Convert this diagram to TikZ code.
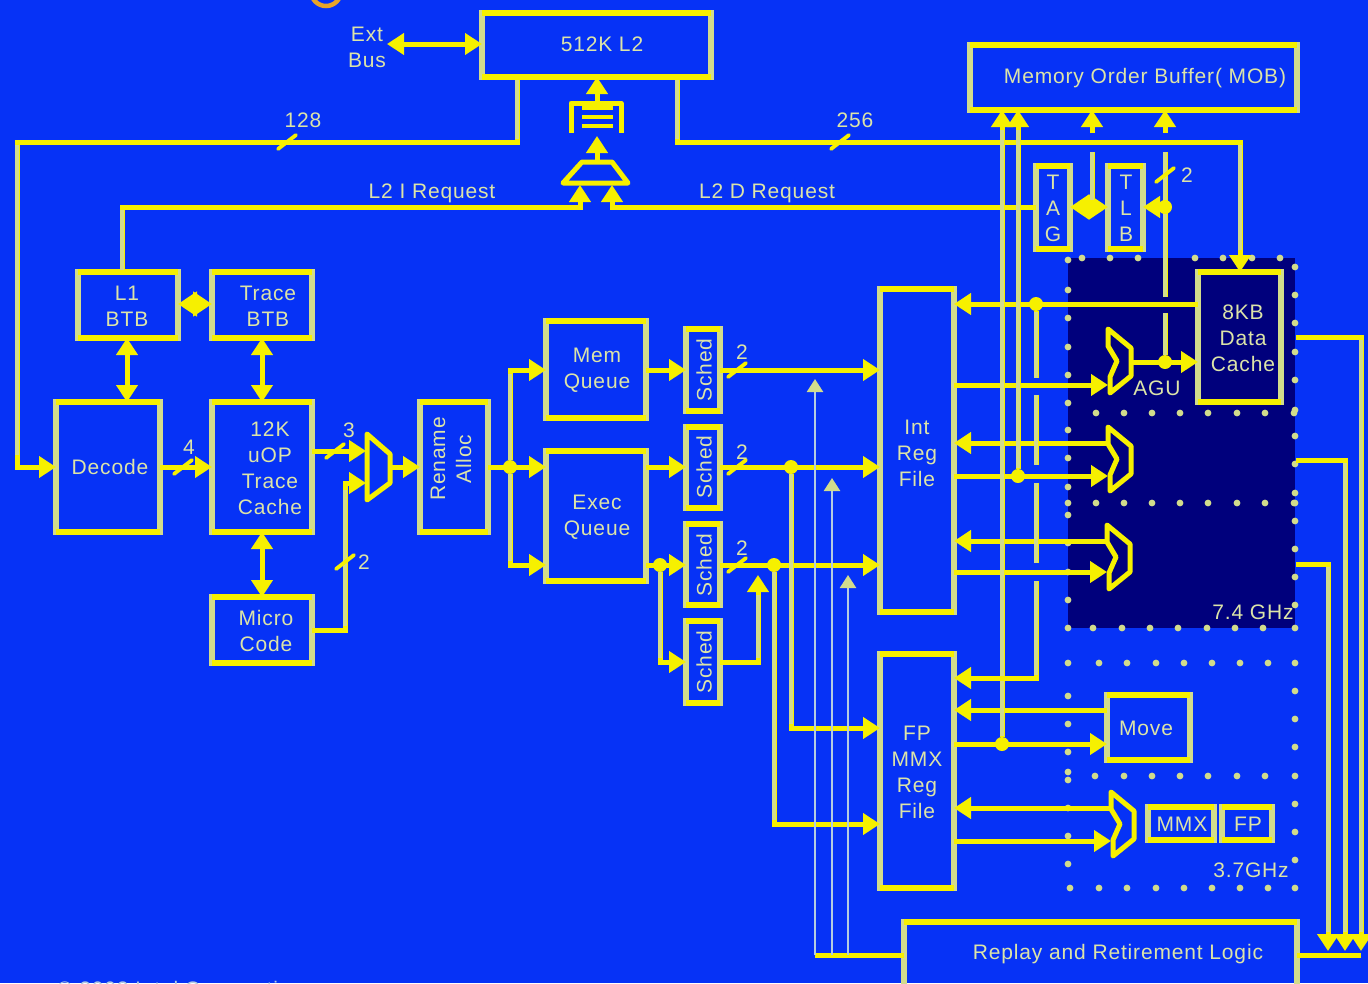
\documentclass[tikz,border=0pt]{standalone}
\usepackage{fontspec}
\setmainfont[LetterSpace=4]{Liberation Sans}
\usetikzlibrary{arrows.meta}
\definecolor{bgblue}{HTML}{0632F6}
\definecolor{navy}{HTML}{00007C}
\definecolor{yel}{HTML}{F6F000}
\definecolor{paley}{HTML}{D2DC8C}
\definecolor{txt}{HTML}{DCE4A8}
\definecolor{thinb}{HTML}{B4CCE0}
\definecolor{orangering}{HTML}{E8A428}
\tikzset{
  >={Triangle[length=17pt,width=21pt]},
  box/.style={draw=paley,line width=5.6pt,inner sep=0pt,outer sep=0pt},
  hedge/.style={draw=yel,line width=5.6pt,line cap=square},
  wire/.style={draw=yel,line width=5pt,line join=miter},
  over/.style={draw=paley,line width=3.4pt},
  thinw/.style={draw=thinb,line width=2.4pt,-{Triangle[length=13pt,width=16pt,color=paley,fill=paley]}},
  muxs/.style={draw=yel,line width=5pt,line join=round},
  tickl/.style={draw=yel,line width=3.8pt,line cap=round},
  tx/.style={text=txt,inner sep=0pt,align=center,font=\fontsize{21}{26}\selectfont},
  jn/.style={circle,fill=yel,inner sep=0pt,minimum size=14pt,draw=none},
  bd/.style={fill=paley},
  meet/.style={{Triangle[length=19pt,width=24pt]}-{Triangle[length=19pt,width=24pt]}},
}
\newcommand{\bx}[5]{\node[box,minimum width={(#4-#2)*1pt},minimum height={(#5-#3)*1pt}] (#1) at ({(#2+#4)/2},{(#3+#5)/2}) {};
  \draw[hedge] (#1.north west)--(#1.north east);
  \draw[hedge] (#1.south west)--(#1.south east);}
\newcommand{\tl}[4]{\node[tx] (#1) at (#2,#3) {#4};}
\newcommand{\rtl}[4]{\node[tx,rotate=90] (#1) at (#2,#3) {#4};}
\newcommand{\tick}[2]{\draw[tickl] ({#1-9},{#2+7}) -- ({#1+9},{#2-7});}
\newcommand{\vp}[3]{\draw[over] (#1,#2)--(#1,#3);}
\newcommand{\alu}[2]{\draw[muxs] (#1,{#2}) -- ({#1+23},{#2+19}) -- ({#1+23},{#2+47}) -- ({#1+2},{#2+64}) -- ({#1+2},{#2+48}) -- ({#1+9},{#2+32}) -- (#1,{#2+17}) -- cycle;}
\begin{document}
\begin{tikzpicture}[x=1pt,y=-1pt]
\useasboundingbox (0,0) rectangle (1368,983);
\fill[bgblue] (0,0) rectangle (1368,983);
\draw[orangering,line width=4.5pt] (326,-9) circle[radius=15pt];

% clock domains
\fill[navy] (1068,258) rectangle (1295,628);
\foreach \x in {1082,1110,1138,1195,1223,1252,1280} \fill[bd] (\x,258) circle[radius=3.4pt];
\foreach \y in {260,290,318,347,375,403,430,458,487,503,515,543,572,600,628} \fill[bd] (1068,\y) circle[radius=3.4pt];
\foreach \y in {267,295,323,352,380,410,436,464,493,503,521,549,577,605,628} \fill[bd] (1295,\y) circle[radius=3.4pt];
\foreach \x in {1096,1124,1152,1180,1208,1237,1265,1294} {\fill[bd] (\x,413) circle[radius=3.4pt]; \fill[bd] (\x,503) circle[radius=3.4pt];}
\foreach \x in {1093,1122,1150,1178,1207,1235,1263} \fill[bd] (\x,628) circle[radius=3.4pt];
\foreach \x in {1099,1127,1156,1184,1212,1240,1268,1295} {\fill[bd] (\x,663) circle[radius=3.4pt]; \fill[bd] (\x,888) circle[radius=3.4pt];}
\fill[bd] (1070,888) circle[radius=3.4pt];
\foreach \x in {1095,1124,1152,1180,1208,1237,1265,1295} \fill[bd] (\x,776) circle[radius=3.4pt];
\foreach \y in {663,696,724,752,772,780,808,836,864} \fill[bd] (1068,\y) circle[radius=3.4pt];
\foreach \y in {691,719,747,804,832,860} \fill[bd] (1295,\y) circle[radius=3.4pt];

% blocks
\bx{l2}{482}{13}{711}{77}
\bx{mob}{970}{45}{1297}{110}
\bx{tag}{1036}{166}{1070}{249}
\bx{tlb}{1108}{166}{1143}{249}
\bx{lbtb}{78}{272}{178}{338}
\bx{tbtb}{212}{272}{312}{338}
\bx{decode}{56}{402}{160}{532}
\bx{uop}{212}{402}{312}{532}
\bx{micro}{212}{597}{312}{663}
\bx{rename}{420}{402}{488}{532}
\bx{memq}{546}{321}{646}{418}
\bx{execq}{546}{451}{646}{581}
\bx{scha}{686}{329}{720}{411}
\bx{schb}{686}{427}{720}{508}
\bx{schc}{686}{524}{720}{605}
\bx{schd}{686}{621}{720}{703}
\bx{intreg}{880}{289}{954}{612}
\bx{fpreg}{880}{654}{954}{888}
\bx{dcache}{1198}{272}{1281}{402}
\bx{move}{1107}{695}{1190}{760}
\bx{mmx}{1148}{807}{1214}{840}
\bx{fpu}{1222}{807}{1272}{840}
\bx{replay}{904}{922}{1297}{1010}

% muxes
\draw[muxs] (582,162) -- (612,162) -- (628,183) -- (563,183) -- cycle;
\draw[muxs] (367,434) -- (390,454) -- (390,483) -- (367,500) -- cycle;
\alu{1108}{329}
\alu{1108}{427}
\alu{1107}{525}
\alu{1111}{792}

% L2 request buffer
\draw[muxs] (571,133) -- (571,103) -- (621,103) -- (621,133);
\foreach \y in {108,117,126} \draw[yel,line width=3.8pt] (582,\y) -- (613,\y);
\coordinate (bufb) at (597,136);
\coordinate (buft) at (597,103);
\coordinate (muxt) at (597,162);
\coordinate (muxl) at (580,185);
\coordinate (muxr) at (612,185);
\draw[wire,->] (buft) -- (l2.south -| buft);
\draw[wire,->] (muxt) -- (bufb);

% external bus
\coordinate (extb) at (387,44);
\draw[wire,<->] (extb) -- (l2.west |- extb);

% L2 to decode and data cache
\draw[wire,->] (l2.south -| 517,0) -- (517,142) -- (17,142) -- (17,467) -- (decode.west |- 0,467);
\draw[wire,->] (l2.south -| 677,0) -- (677,142) -- (1240,142) -- (dcache.north -| 1240,0);
\vp{517}{80}{139}\vp{677}{80}{139}\vp{17}{145}{455}\vp{1240}{145}{250}
\tick{287}{142}\tick{840}{142}

% requests
\draw[wire,->] (lbtb.north -| 122,0) -- (122,207) -- (580,207) -- (muxl);
\draw[wire,->] (tag.west |- 0,207) -- (612,207) -- (muxr);
\vp{122}{210}{270}

% TAG / TLB / MOB
\draw[wire,meet] (tag.east |- 0,207) -- (tlb.west |- 0,207);
\node[jn] (jtag) at (1092,207) {};
\node[jn] (jtlb) at (1165,207) {};
\coordinate (mobaa) at (1092,133);
\coordinate (mobab) at (1092,152);
\coordinate (mobba) at (1165,133);
\coordinate (mobbb) at (1165,152);
\draw[wire,->] (mobaa) -- (mob.south -| mobaa);
\draw[wire,->] (mobba) -- (mob.south -| mobba);
\draw[wire] (mobab) -- (jtag);
\draw[wire,->] (jtlb) -- (tlb.east |- jtlb);
\coordinate (xa) at (1165,297);
\coordinate (xb) at (1165,313);
\node[jn] (jagu) at (1165,362) {};
\draw[wire] (mobbb) -- (xa);
\draw[wire] (xb) -- (jagu);
\vp{1092}{152}{200}\vp{1165}{152}{200}\vp{1165}{214}{297}\vp{1165}{313}{355}
\tick{1165}{175}

% AGU / ALU feeds
\draw[wire,->] (1131,362) -- (dcache.west |- 0,362);
\draw[wire,->] (intreg.east |- 0,385) -- (1108,385);
\draw[wire,<-] (intreg.east |- 0,443) -- (1108,443);
\draw[wire,->] (intreg.east |- 0,476) -- (1108,476);
\draw[wire,<-] (intreg.east |- 0,541) -- (1107,541);
\draw[wire,->] (intreg.east |- 0,572) -- (1107,572);
\draw[wire,<-] (intreg.east |- 0,304) -- (dcache.west |- 0,304);
\node[jn] (jdc) at (1036,304) {};
\node[jn] (jint) at (1018,476) {};
\node[jn] (jfp) at (1002,744) {};

% FP feeds
\draw[wire,<-] (fpreg.east |- 0,710) -- (move.west |- 0,710);
\draw[wire,->] (fpreg.east |- 0,744) -- (move.west |- 0,744);
\draw[wire,<-] (fpreg.east |- 0,808) -- (1111,808);
\draw[wire,->] (fpreg.east |- 0,841) -- (1111,841);

% to MOB
\draw[wire,->] (jfp) -- (mob.south -| 1002,0);
\draw[wire,->] (jint) -- (mob.south -| 1018,0);
\vp{1002}{130}{736}\vp{1018}{130}{468}
% data cache forward
\coordinate (gapa) at (1036,378);
\coordinate (gapb) at (1036,395);
\coordinate (gapc) at (1036,465);
\coordinate (gapd) at (1036,483);
\coordinate (gape) at (1036,563);
\coordinate (gapf) at (1036,581);
\draw[wire] (jdc) -- (gapa);
\draw[wire] (gapb) -- (gapc);
\draw[wire] (gapd) -- (gape);
\draw[wire,->] (gapf) -- (1036,678) -- (fpreg.east |- 0,678);
\vp{1036}{312}{378}\vp{1036}{395}{465}\vp{1036}{483}{563}\vp{1036}{581}{675}

% front end
\draw[wire,meet] (lbtb.east |- 0,304) -- (tbtb.west |- 0,304);
\draw[wire,<->] (lbtb.south -| 127,0) -- (decode.north -| 127,0);
\draw[wire,<->] (tbtb.south -| 262,0) -- (uop.north -| 262,0);
\draw[wire,<->] (uop.south -| 262,0) -- (micro.north -| 262,0);
\draw[wire,->] (decode.east |- 0,467) -- (uop.west |- 0,467);
\tick{183}{467}
\draw[wire,->] (uop.east |- 0,451) -- (366,451);
\tick{335}{451}
\draw[wire,->] (micro.east |- 0,630) -- (345,630) -- (345,483) -- (366,483);
\vp{345}{490}{626}
\tick{345}{562}
\draw[wire,->] (391,467) -- (rename.west |- 0,467);
\draw[wire,->] (rename.east |- 0,467) -- (execq.west |- 0,467);
\node[jn] (jren) at (510,467) {};
\draw[wire,->] (jren) -- (510,370) -- (memq.west |- 0,370);
\draw[wire,->] (jren) -- (510,565) -- (execq.west |- 0,565);
\vp{510}{374}{460}\vp{510}{474}{561}

% schedulers
\draw[wire,->] (memq.east |- 0,370) -- (scha.west |- 0,370);
\draw[wire,->] (execq.east |- 0,467) -- (schb.west |- 0,467);
\draw[wire,->] (execq.east |- 0,565) -- (schc.west |- 0,565);
\node[jn] (jex) at (660,565) {};
\draw[wire,->] (jex) -- (660,662) -- (schd.west |- 0,662);
\vp{660}{572}{658}
\draw[wire,->] (scha.east |- 0,370) -- (intreg.west |- 0,370);
\draw[wire,->] (schb.east |- 0,467) -- (intreg.west |- 0,467);
\draw[wire,->] (schc.east |- 0,565) -- (intreg.west |- 0,565);
\tick{737}{370}\tick{737}{467}\tick{737}{565}
\coordinate (loadin) at (758,575);
\draw[wire,->] (schd.east |- 0,662) -- (758,662) -- (loadin);
\vp{758}{595}{658}
\node[jn] (jb) at (791,467) {};
\node[jn] (jc) at (774,565) {};
\draw[wire,->] (jb) -- (791,728) -- (fpreg.west |- 0,728);
\draw[wire,->] (jc) -- (774,824) -- (fpreg.west |- 0,824);
\vp{791}{474}{724}\vp{774}{572}{820}

% replay
\coordinate (rleft) at (815,955);
\coordinate (rright) at (1361,955);
\draw[wire] (replay.west |- rleft) -- (rleft);
\draw[thinw] (rleft) -- (815,379);
\draw[thinw] (832,955) -- (832,478);
\draw[thinw] (848,955) -- (848,575);
\draw[wire] (replay.east |- rright) -- (rright);
\draw[wire,->] (dcache.east |- 0,337) ++(15,0) -- (1361,337) -- (1361,951);
\draw[wire,->] (1296,460) -- (1345,460) -- (1345,951);
\draw[wire,->] (1296,564) -- (1328,564) -- (1328,951);
\vp{1361}{340}{932}\vp{1345}{463}{932}\vp{1328}{567}{932}

% text
\tl{tExt}{367}{47}{Ext\\Bus}
\tl{tL}{602}{44}{512K L2}
\tl{tMob}{1145}{78}{Memory Order Buffer( MOB)}
\tl{t128}{303}{120}{128}
\tl{t256}{855}{120}{256}
\tl{tI}{432}{193}{L2 I Request}
\tl{tD}{767}{193}{L2 D Request}
\tl{tTag}{1053}{208}{T\\A\\G}
\tl{tTlb}{1126}{208}{T\\L\\B}
\tl{tTwoT}{1187}{175}{2}
\tl{tLbtb}{127}{306}{L1\\BTB}
\tl{tTbtb}{268}{306}{Trace\\BTB}
\tl{tDec}{110}{467}{Decode}
\tl{tFour}{189}{447}{4}
\tl{tUop}{270}{468}{12K\\uOP\\Trace\\Cache}
\tl{tThree}{349}{430}{3}
\tl{tTwoM}{364}{562}{2}
\tl{tMic}{266}{631}{Micro\\Code}
\rtl{tRen}{451}{459}{Rename\\Alloc}
\tl{tMem}{597}{370}{Mem\\Queue}
\tl{tExec}{597}{517}{Exec\\Queue}
\rtl{tSa}{704}{370}{Sched}
\rtl{tSb}{704}{467}{Sched}
\rtl{tSc}{704}{565}{Sched}
\rtl{tSd}{704}{662}{Sched}
\tl{tTa}{742}{352}{2}
\tl{tTb}{742}{452}{2}
\tl{tTc}{742}{548}{2}
\tl{tInt}{917}{453}{Int\\Reg\\File}
\tl{tFp}{917}{772}{FP\\MMX\\Reg\\File}
\tl{tDc}{1243}{338}{8KB\\Data\\Cache}
\tl{tAgu}{1157}{388}{AGU}
\tl{tGa}{1253}{612}{7.4 GHz}
\tl{tMove}{1146}{728}{Move}
\tl{tMmx}{1182}{824}{MMX}
\tl{tFpu}{1248}{824}{FP}
\tl{tGb}{1251}{870}{3.7GHz}
\tl{tRep}{1118}{954}{Replay and Retirement Logic}
\node[tx,anchor=west,text=thinb] (tCopy) at (57,991) {© 2002 Intel Corporation};
\end{tikzpicture}
\end{document}
